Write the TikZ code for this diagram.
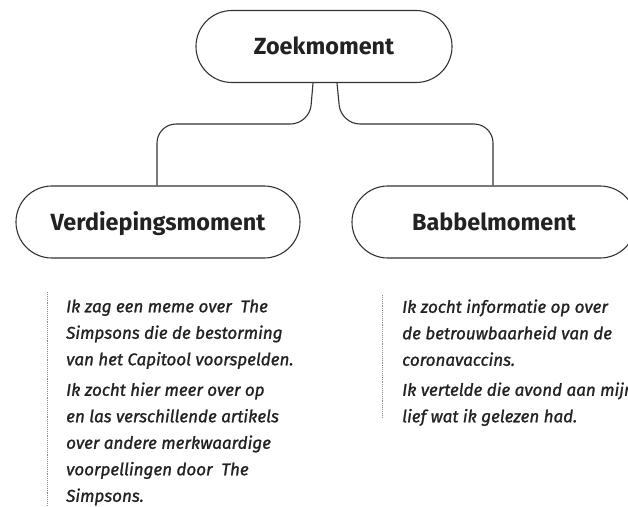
\documentclass[tikz,border=0pt]{standalone}
\usepackage{fontspec}
\setmainfont{Fira Sans}
\newfontfamily\noteit{Fira Sans}[ItalicFeatures={FakeBold=1.2}]
\definecolor{ink}{HTML}{222222}
\definecolor{linec}{HTML}{333333}
\definecolor{dotc}{HTML}{8A8A8A}
\tikzset{
  pill/.style={draw=linec, line width=1.1pt, rectangle, rounded corners=35.9pt,
    minimum height=72pt, inner sep=0pt, text=ink,
    font=\fontsize{23.4}{28}\selectfont\bfseries, text height=16.1pt, text depth=0pt},
  link/.style={draw=linec, line width=1.1pt, rounded corners=19pt},
  note/.style={anchor=north west, inner sep=0pt, align=left, text=ink,
    font=\noteit\itshape\fontsize{17}{26.5}\selectfont},
  guide/.style={draw=dotc, line width=0.8pt, dash pattern=on 0.8pt off 1.1pt}
}
\begin{document}
\begin{tikzpicture}[x=1pt,y=-1pt]
\useasboundingbox (0,0) rectangle (628,506);
\clip (0,0) rectangle (628,506);
\fill[white] (0,0) rectangle (628,506);

\node[pill, minimum width=256pt] (z) at (324,46.5) {Zoekmoment};
\node[pill, minimum width=284pt] (v) at (158,222) {Verdiepingsmoment};
\node[pill, minimum width=284pt] (b) at (494,222) {Babbelmoment};

\coordinate (zl) at ([xshift=-11pt]z.south);
\coordinate (zr) at ([xshift=13pt]z.south);
\coordinate (vt) at ([xshift=-1pt]v.north);
\coordinate (bt) at ([xshift=-1pt]b.north);

\draw[link] (zl) -- ([xshift=-3.5pt]zl |- 0,124) -- (vt |- 0,124) -- (vt);
\draw[link] (zr) -- ([xshift=4pt]zr |- 0,124) -- (bt |- 0,124) -- (bt);

\coordinate (g1a) at (47,292);
\coordinate (g1b) at (47,506);
\coordinate (g2a) at (382,295);
\coordinate (g2b) at (382,418);
\draw[guide] (g1a) -- (g1b);
\draw[guide] (g2a) -- (g2b);

\node[note] (t1) at (66,299.3) {Ik zag een meme over\ \ The\\Simpsons die de bestorming\\van het Capitool voorspelden.};
\node[note] (t2) at (66,382.3) {Ik zocht hier meer over op\\en las verschillende artikels\\over andere merkwaardige\\voorpellingen door\ \ The\\Simpsons.};
\node[note] (t3) at (402,299.3) {Ik zocht informatie op over\\de betrouwbaarheid van de\\coronavaccins.};
\node[note] (t4) at (402,382.3) {Ik vertelde die avond aan mijn\\lief wat ik gelezen had.};
\end{tikzpicture}
\end{document}
